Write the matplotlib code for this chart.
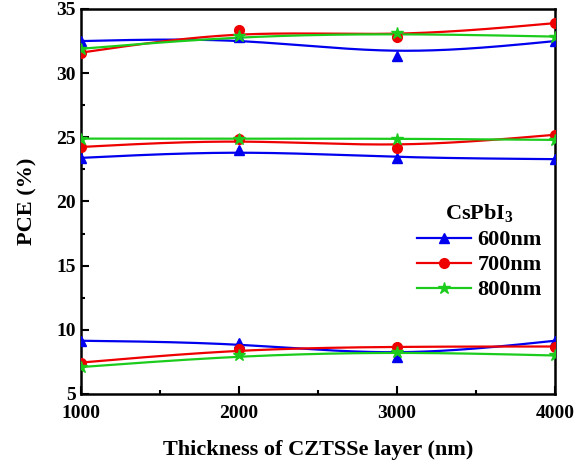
import matplotlib
matplotlib.use("Agg")
import matplotlib.pyplot as plt
import numpy as np
from matplotlib.ticker import MultipleLocator, AutoMinorLocator

# --- datos ---
thickness = [1000, 2000, 3000, 4000]

# tres grupos de curvas por cada espesor de CsPbI3
pce_600 = [
    [32.5, 32.8, 31.3, 32.5],
    [23.4, 24.0, 23.4, 23.3],
    [9.15, 9.0, 7.85, 9.15],
]
pce_700 = [
    [31.6, 33.4, 32.8, 33.9],
    [24.25, 24.9, 24.15, 25.2],
    [7.45, 8.5, 8.7, 8.7],
]
pce_800 = [
    [31.9, 32.9, 33.1, 32.85],
    [24.9, 24.9, 24.9, 24.8],
    [7.1, 8.0, 8.3, 8.0],
]

labels = ["600nm", "700nm", "800nm"]
colors = ["#0000ee", "#ee0000", "#1ccc1c"]
markers = ["^", "o", "*"]
msizes = [7, 7, 9]


def bspline(x, y, n=200):
    # B-spline cubica uniforme (puntos extremos reflejados), como Origin
    x = np.asarray(x, float)
    y = np.asarray(y, float)
    px = np.concatenate([[2 * x[0] - x[1]], x, [2 * x[-1] - x[-2]]])
    py = np.concatenate([[2 * y[0] - y[1]], y, [2 * y[-1] - y[-2]]])
    xs, ys = [], []
    t = np.linspace(0, 1, n)
    b0 = (1 - t) ** 3 / 6
    b1 = (3 * t**3 - 6 * t**2 + 4) / 6
    b2 = (-3 * t**3 + 3 * t**2 + 3 * t + 1) / 6
    b3 = t**3 / 6
    for i in range(len(px) - 3):
        xs.append(b0 * px[i] + b1 * px[i + 1] + b2 * px[i + 2] + b3 * px[i + 3])
        ys.append(b0 * py[i] + b1 * py[i + 1] + b2 * py[i + 2] + b3 * py[i + 3])
    return np.concatenate(xs), np.concatenate(ys)


plt.rcParams["font.family"] = ["Liberation Serif", "DejaVu Serif"]
plt.rcParams["font.weight"] = "bold"
plt.rcParams["mathtext.fontset"] = "custom"
plt.rcParams["mathtext.rm"] = "Liberation Serif:bold"
plt.rcParams["mathtext.bf"] = "Liberation Serif:bold"

fig = plt.figure(figsize=(5.77, 4.65), dpi=100)
ax = fig.add_axes([81 / 577, 1 - 394 / 465, (555 - 81) / 577, (394 - 9) / 465])

series = [pce_600, pce_700, pce_800]
for data, lab, c, m, ms in zip(series, labels, colors, markers, msizes):
    for k, group in enumerate(data):
        sx, sy = bspline(thickness, group)
        ax.plot(sx, sy, color=c, lw=1.6, zorder=2)
        ax.plot(thickness, group, ls="none", marker=m, color=c, ms=ms, zorder=3)
    # entrada de leyenda
    ax.plot([], [], color=c, lw=1.6, marker=m, ms=ms, label=lab)

ax.set_xlim(1000, 4000)
ax.set_ylim(5, 35)
ax.xaxis.set_major_locator(MultipleLocator(1000))
ax.xaxis.set_minor_locator(AutoMinorLocator(2))
ax.yaxis.set_major_locator(MultipleLocator(5))
ax.yaxis.set_minor_locator(AutoMinorLocator(2))
ax.tick_params(which="both", direction="in", top=False, right=False, labelsize=14, width=1.5)
ax.tick_params(which="major", length=6)
ax.tick_params(which="minor", length=3)
ax.tick_params(axis="x", pad=8)
for sp in ax.spines.values():
    sp.set_linewidth(1.8)

ax.set_xlabel("Thickness of CZTSSe layer (nm)", fontsize=16, fontweight="bold", labelpad=13)
ax.set_ylabel("PCE (%)", fontsize=16, fontweight="bold", labelpad=14)

leg = ax.legend(title=r"CsPbI$_3$", loc="center right", bbox_to_anchor=(1.0, 0.37),
                frameon=False, fontsize=16, title_fontsize=16, handlelength=2.4,
                labelspacing=0.2, handletextpad=0.3, borderaxespad=0.2)
leg.get_title().set_fontweight("bold")

fig.savefig("out.png", dpi=100)
